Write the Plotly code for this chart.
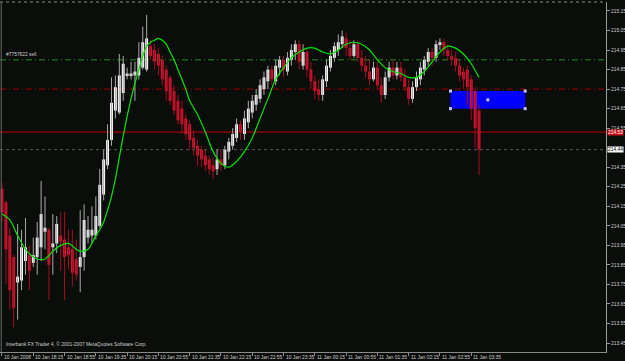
import plotly.graph_objects as go

# ---------------- data ----------------
bar_index = list(range(123))
opens = [214.24, 214.17, 214.00, 213.89, 213.76, 213.77, 213.87, 213.90, 213.86, 213.89,
         213.94, 214.02, 214.03, 213.94, 213.96, 214.00, 213.98, 213.94, 213.93, 213.88,
         213.84, 213.89, 213.99, 214.00, 214.00, 214.05, 214.21, 214.36, 214.49, 214.64,
         214.63, 214.73, 214.82, 214.82, 214.82, 214.82, 214.86, 214.85, 214.97, 214.95,
         214.93, 214.90, 214.85, 214.81, 214.74, 214.69, 214.65, 214.60, 214.57, 214.50,
         214.46, 214.44, 214.41, 214.39, 214.36, 214.34, 214.39, 214.36, 214.43, 214.46,
         214.50, 214.57, 214.52, 214.58, 214.63, 214.67, 214.70, 214.75, 214.79, 214.85,
         214.79, 214.86, 214.90, 214.84, 214.90, 214.94, 214.98, 214.87, 214.94, 214.85,
         214.79, 214.75, 214.72, 214.79, 214.86, 214.91, 214.95, 214.98, 215.01, 214.96,
         214.92, 214.98, 214.91, 214.87, 214.84, 214.80, 214.86, 214.77, 214.72, 214.81,
         214.86, 214.82, 214.86, 214.81, 214.76, 214.70, 214.76, 214.80, 214.85, 214.89,
         214.94, 214.91, 214.98, 214.99, 214.95, 214.92, 214.91, 214.87, 214.84, 214.85,
         214.80, 214.74, 214.64]
highs = [214.27, 214.18, 214.04, 213.90, 214.06, 214.03, 214.09, 213.95, 213.99, 214.07,
         214.28, 214.20, 214.04, 214.11, 214.10, 214.12, 214.12, 214.03, 214.03, 213.98,
         214.13, 214.16, 214.10, 214.15, 214.20, 214.34, 214.44, 214.57, 214.81, 214.82,
         214.93, 214.92, 214.86, 214.89, 214.89, 214.99, 215.07, 215.13, 215.00, 214.98,
         214.96, 214.92, 214.87, 214.82, 214.77, 214.72, 214.69, 214.62, 214.59, 214.54,
         214.49, 214.46, 214.44, 214.41, 214.40, 214.44, 214.44, 214.46, 214.50, 214.55,
         214.60, 214.59, 214.64, 214.69, 214.72, 214.75, 214.80, 214.84, 214.87, 214.87,
         214.90, 214.92, 214.92, 214.94, 214.98, 215.00, 215.00, 214.98, 214.96, 214.89,
         214.82, 214.80, 214.82, 214.90, 214.95, 214.99, 215.03, 215.05, 215.04, 215.00,
         215.00, 215.00, 214.95, 214.92, 214.90, 214.89, 214.89, 214.81, 214.84, 214.89,
         214.90, 214.89, 214.89, 214.85, 214.80, 214.79, 214.84, 214.89, 214.92, 214.96,
         214.96, 215.00, 215.01, 215.01, 214.98, 214.95, 214.94, 214.90, 214.86, 214.87,
         214.82, 214.76, 214.67]
lows = [214.07, 213.75, 213.62, 213.53, 213.57, 213.72, 213.80, 213.72, 213.84, 213.80,
        213.87, 213.93, 213.67, 213.80, 213.91, 213.82, 213.67, 213.83, 213.74, 213.77,
        213.71, 213.82, 213.96, 213.96, 213.98, 214.04, 214.18, 214.34, 214.46, 214.60,
        214.62, 214.69, 214.80, 214.80, 214.69, 214.80, 214.85, 214.84, 214.90, 214.85,
        214.82, 214.77, 214.69, 214.67, 214.62, 214.57, 214.52, 214.49, 214.44, 214.41,
        214.36, 214.35, 214.33, 214.31, 214.29, 214.31, 214.33, 214.34, 214.39, 214.44,
        214.48, 214.49, 214.49, 214.55, 214.60, 214.64, 214.68, 214.72, 214.75, 214.77,
        214.77, 214.82, 214.81, 214.82, 214.87, 214.90, 214.85, 214.85, 214.81, 214.75,
        214.70, 214.69, 214.69, 214.76, 214.84, 214.89, 214.92, 214.96, 214.92, 214.90,
        214.91, 214.89, 214.84, 214.81, 214.77, 214.79, 214.75, 214.68, 214.70, 214.79,
        214.80, 214.80, 214.79, 214.74, 214.67, 214.68, 214.74, 214.77, 214.82, 214.87,
        214.87, 214.89, 214.95, 214.92, 214.90, 214.87, 214.84, 214.79, 214.75, 214.67,
        214.59, 214.45, 214.31]
closes = [214.12, 213.93, 213.72, 213.63, 213.79, 213.94, 213.94, 213.82, 213.90, 213.99,
          214.11, 214.04, 213.85, 213.96, 214.06, 213.97, 213.89, 213.90, 213.81, 213.80,
          213.89, 214.08, 214.03, 214.03, 214.10, 214.26, 214.39, 214.49, 214.68, 214.76,
          214.82, 214.88, 214.83, 214.83, 214.84, 214.91, 214.99, 215.01, 214.92, 214.89,
          214.87, 214.80, 214.74, 214.69, 214.64, 214.59, 214.57, 214.52, 214.49, 214.45,
          214.41, 214.39, 214.36, 214.34, 214.33, 214.39, 214.36, 214.44, 214.48, 214.52,
          214.57, 214.53, 214.60, 214.65, 214.69, 214.72, 214.77, 214.81, 214.85, 214.80,
          214.87, 214.90, 214.85, 214.91, 214.95, 214.98, 214.89, 214.94, 214.85, 214.79,
          214.74, 214.72, 214.80, 214.87, 214.92, 214.97, 214.99, 215.02, 214.96, 214.92,
          214.98, 214.91, 214.87, 214.84, 214.80, 214.86, 214.77, 214.72, 214.81, 214.86,
          214.82, 214.86, 214.81, 214.76, 214.70, 214.76, 214.81, 214.86, 214.90, 214.94,
          214.91, 214.98, 214.99, 214.95, 214.92, 214.90, 214.87, 214.82, 214.80, 214.76,
          214.65, 214.55, 214.44]

ma_index = [0, 2, 4, 6, 8, 9, 11, 13, 15, 17, 19, 20, 22, 24, 25, 26, 27, 28, 29, 30,
            31, 32, 33, 34, 35, 36, 37, 38, 39, 40, 41, 42, 43, 44, 45, 46, 47, 48, 50, 52,
            54, 56, 58, 60, 62, 64, 66, 68, 70, 72, 74, 76, 78, 80, 82, 84, 86, 88, 90, 92,
            94, 96, 98, 100, 102, 104, 106, 108, 110, 112, 114, 116, 118, 120, 122]
ma_values = [214.11, 214.08, 214.00, 213.93, 213.89, 213.88, 213.88, 213.92, 213.95, 213.96,
             213.93, 213.92, 213.93, 214.00, 214.03, 214.07, 214.13, 214.20, 214.29, 214.40,
             214.51, 214.61, 214.70, 214.78, 214.85, 214.92, 214.97, 214.99, 215.00, 215.01,
             215.00, 214.98, 214.94, 214.90, 214.85, 214.80, 214.75, 214.69, 214.62, 214.53,
             214.43, 214.37, 214.35, 214.38, 214.43, 214.50, 214.60, 214.70, 214.80, 214.86,
             214.91, 214.94, 214.96, 214.96, 214.94, 214.93, 214.95, 214.98, 214.99, 214.98,
             214.95, 214.90, 214.86, 214.84, 214.83, 214.81, 214.81, 214.84, 214.89, 214.94,
             214.97, 214.96, 214.93, 214.88, 214.81]

time_tick_bars = [0, 8, 16, 24, 32, 40, 48, 56, 64, 72, 80, 88, 96, 104, 112, 120]
time_tick_labels = ["10 Jan 2008", "10 Jan 18:15", "10 Jan 18:55", "10 Jan 19:35",
                    "10 Jan 20:15", "10 Jan 20:55", "10 Jan 21:35", "10 Jan 22:15",
                    "10 Jan 22:55", "10 Jan 23:35", "11 Jan 00:15", "11 Jan 00:55",
                    "11 Jan 01:35", "11 Jan 02:15", "11 Jan 02:55", "11 Jan 03:35"]
# the 214.45 label is hidden behind the bid-price box in the reference
price_tick_values = [213.45, 213.55, 213.65, 213.75, 213.85, 213.95, 214.05, 214.15, 214.25,
                     214.35, 214.55, 214.65, 214.75, 214.85, 214.95, 215.05, 215.15]
price_tick_labels = ["213.45", "213.55", "213.65", "213.75", "213.85", "213.95", "214.05",
                     "214.15", "214.25", "214.35", "214.55", "214.65", "214.75",
                     "214.85", "214.95", "215.05", "215.15"]

sell_level = 214.90
sell_label = "#7757622 sell"
stop_level = 214.75
order_level = 214.53
bid_level = 214.44
rect_bars = [114.7, 133.8]
rect_prices = [214.65, 214.74]
footer_text = "Interbank FX Trader 4, \u00a9 2001-2007 MetaQuotes Software Corp."

# ---------------- styling ----------------
BG = "#0b0d0b"
TXT = "#cfcfcf"
FONT = "Liberation Sans"
FS = 4.9
BULL_BODY, BULL_WICK = "#ffffff", "#a8a8a8"
BEAR_BODY, BEAR_WICK = "#dc1434", "#a0101c"

bull = [c >= o for o, c in zip(opens, closes)]

fig = go.Figure()

# wicks
for is_bull, col in [(True, BULL_WICK), (False, BEAR_WICK)]:
    xs, ys = [], []
    for i, o, h, l, c, b in zip(bar_index, opens, highs, lows, closes, bull):
        if b == is_bull:
            xs += [i, i, None]
            ys += [l, h, None]
    fig.add_trace(go.Scatter(x=xs, y=ys, mode="lines", line=dict(color=col, width=1),
                             hoverinfo="skip"))

# bodies
fig.add_trace(go.Bar(
    x=bar_index,
    base=[min(o, c) for o, c in zip(opens, closes)],
    y=[max(abs(c - o), 0.004) for o, c in zip(opens, closes)],
    width=0.74,
    marker=dict(color=[BULL_BODY if b else BEAR_BODY for b in bull], line=dict(width=0)),
    hoverinfo="skip",
))

# moving average
fig.add_trace(go.Scatter(x=ma_index, y=ma_values, mode="lines",
                         line=dict(color="#00e600", width=1.2, shape="spline", smoothing=0.8),
                         hoverinfo="skip"))

# rectangle selection points
rx = [rect_bars[0], rect_bars[1], rect_bars[0], rect_bars[1], (rect_bars[0] + rect_bars[1]) / 2]
ry = [rect_prices[1], rect_prices[1], rect_prices[0], rect_prices[0], (rect_prices[0] + rect_prices[1]) / 2]
fig.add_trace(go.Scatter(x=rx, y=ry, mode="markers",
                         marker=dict(symbol="square", size=3, color="#c8c8ff", line=dict(width=0)),
                         hoverinfo="skip"))

shapes = [
    dict(type="rect", xref="x", yref="y", x0=rect_bars[0], x1=rect_bars[1],
         y0=rect_prices[0], y1=rect_prices[1], fillcolor="#0000ff", line=dict(width=0), layer="below"),
    dict(type="line", xref="paper", yref="y", x0=0, x1=1, y0=sell_level, y1=sell_level,
         line=dict(color="#1f8f1f", width=1, dash="6px,3px,1px,3px"), layer="below"),
    dict(type="line", xref="paper", yref="y", x0=0, x1=1, y0=stop_level, y1=stop_level,
         line=dict(color="#a00000", width=1, dash="6px,3px,1px,3px"), layer="below"),
    dict(type="line", xref="paper", yref="y", x0=0, x1=1, y0=order_level, y1=order_level,
         line=dict(color="#c00000", width=1), layer="below"),
    dict(type="line", xref="paper", yref="y", x0=0, x1=1, y0=bid_level, y1=bid_level,
         line=dict(color="#5a5a5a", width=1, dash="dot"), layer="below"),
    dict(type="line", xref="paper", yref="paper", x0=0, x1=1, y0=1, y1=1,
         line=dict(color="#8a8a8a", width=1, dash="dot")),
    dict(type="line", xref="paper", yref="paper", x0=0.002, x1=0.002, y0=0, y1=1,
         line=dict(color="#6a6a6a", width=1)),
]

annotations = [
    dict(xref="paper", yref="y", x=0.006, y=sell_level, text=sell_label, showarrow=False,
         xanchor="left", yanchor="bottom", yshift=1, font=dict(family=FONT, size=FS, color=TXT)),
    dict(xref="paper", yref="paper", x=0.006, y=0, text=footer_text, showarrow=False,
         xanchor="left", yanchor="bottom", yshift=3, font=dict(family=FONT, size=FS, color=TXT)),
    dict(xref="paper", yref="y", x=1, y=order_level, text=f"{order_level:.2f}",
         showarrow=False, xanchor="left", yanchor="middle", xshift=1, bgcolor="#d0101c",
         borderpad=0, font=dict(family=FONT, size=FS, color="#ffffff")),
    dict(xref="paper", yref="y", x=1, y=bid_level, text=f"{bid_level:.2f}",
         showarrow=False, xanchor="left", yanchor="middle", xshift=1, bgcolor="#ffffff",
         borderpad=0, font=dict(family=FONT, size=FS, color="#000000")),
]
for tb, tl in zip(time_tick_bars, time_tick_labels):
    annotations.append(dict(xref="x", yref="paper", x=tb, y=0, text=tl, showarrow=False,
                            xanchor="left", yanchor="top", xshift=0, yshift=-1,
                            font=dict(family=FONT, size=FS, color=TXT)))

fig.update_layout(
    width=625, height=361,
    margin=dict(l=0, r=19, t=2, b=9),
    paper_bgcolor=BG, plot_bgcolor=BG,
    showlegend=False, hovermode=False,
    shapes=shapes, annotations=annotations,
    xaxis=dict(range=[-0.51, 154.47], showgrid=False, zeroline=False,
               showline=True, linecolor="#8a8a8a", linewidth=1,
               ticks="outside", ticklen=3, tickcolor="#8a8a8a",
               tickvals=time_tick_bars, showticklabels=False, fixedrange=True),
    yaxis=dict(range=[213.404, 215.196], side="right", showgrid=False, zeroline=False,
               showline=True, linecolor="#9a9a9a", linewidth=1,
               ticks="outside", ticklen=3, tickcolor="#9a9a9a",
               tickvals=price_tick_values, ticktext=price_tick_labels,
               tickfont=dict(family=FONT, size=FS, color=TXT), fixedrange=True),
)

fig.write_html("out.html")
